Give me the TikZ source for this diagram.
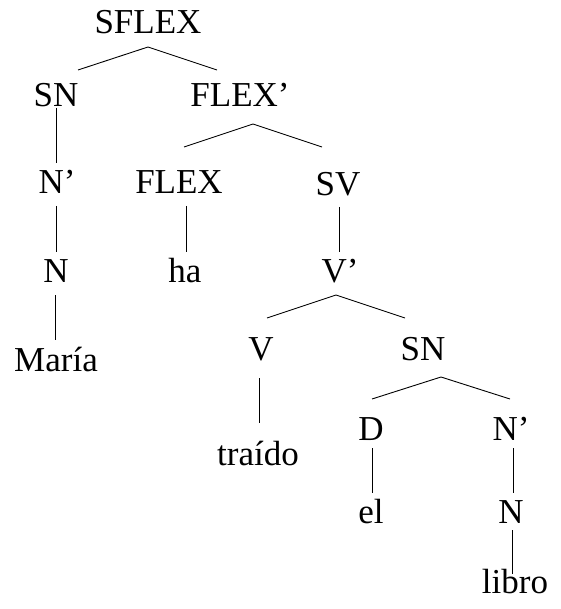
\documentclass[tikz,border=0pt]{standalone}
\usepackage{fontspec}
\setmainfont{Liberation Serif}
\begin{document}
\begin{tikzpicture}[x=1pt,y=-1pt,
  lab/.style={anchor=base,inner sep=0pt,font=\fontsize{35}{40}\selectfont},
  br/.style={line width=0.9pt}]
\useasboundingbox (0,0) rectangle (560,609);
% nodes
\node[lab] (SFLEX) at (148,34) {SFLEX};
\node[lab] (SN1) at (56,107) {SN};
\node[lab] (FLEXb) at (240,107) {FLEX’};
\node[lab] (Nb1) at (57,194) {N’};
\node[lab] (FLEX) at (179,194) {FLEX};
\node[lab] (SV) at (338,196) {SV};
\node[lab] (N1) at (56,282) {N};
\node[lab] (ha) at (185,282) {ha};
\node[lab] (Vb) at (340,282) {V’};
\node[lab] (Maria) at (56,371) {María};
\node[lab] (V) at (261,360) {V};
\node[lab] (SN2) at (423,360) {SN};
\node[lab] (traido) at (258,465) {traído};
\node[lab] (D) at (371,440) {D};
\node[lab] (Nb2) at (511,440) {N’};
\node[lab] (el) at (371,523) {el};
\node[lab] (N2) at (511,523) {N};
\node[lab] (libro) at (515,593) {libro};
% triangle points
\coordinate (a1) at (148,47);  \coordinate (a1l) at (78,70);   \coordinate (a1r) at (217,70);
\coordinate (a2) at (253,124); \coordinate (a2l) at (184,147); \coordinate (a2r) at (322,147);
\coordinate (a3) at (336,295); \coordinate (a3l) at (267,318); \coordinate (a3r) at (405,318);
\coordinate (a4) at (441,377); \coordinate (a4l) at (372,399); \coordinate (a4r) at (510,399);
\draw[br] (a1l) -- (a1) -- (a1r);
\draw[br] (a2l) -- (a2) -- (a2r);
\draw[br] (a3l) -- (a3) -- (a3r);
\draw[br] (a4l) -- (a4) -- (a4r);
% vertical connectors
\coordinate (v1t) at (56,108);  \coordinate (v1b) at (56,163);
\coordinate (v2t) at (56,206);  \coordinate (v2b) at (56,252);
\coordinate (v3t) at (55,295);  \coordinate (v3b) at (55,340);
\coordinate (v4t) at (186,206); \coordinate (v4b) at (186,252);
\coordinate (v5t) at (339,207); \coordinate (v5b) at (339,252);
\coordinate (v6t) at (259,378); \coordinate (v6b) at (259,423);
\coordinate (v7t) at (372,448); \coordinate (v7b) at (372,493);
\coordinate (v8t) at (513,448); \coordinate (v8b) at (513,493);
\coordinate (v9t) at (512,530); \coordinate (v9b) at (512,574);
\foreach \i in {1,...,9} {\draw[br] (v\i t) -- (v\i b);}
\end{tikzpicture}
\end{document}
